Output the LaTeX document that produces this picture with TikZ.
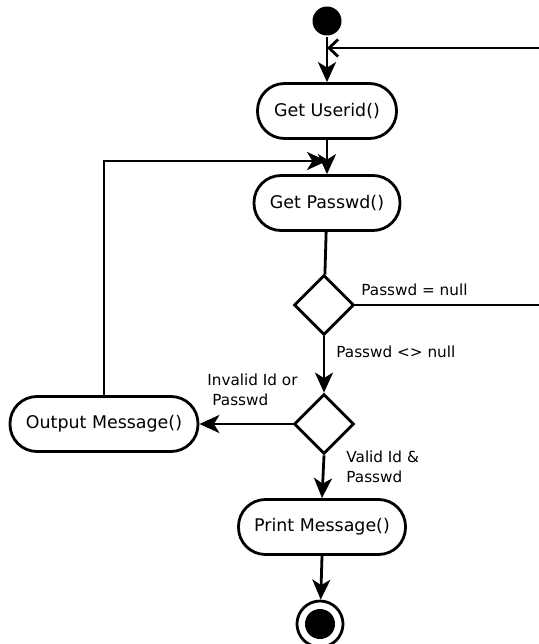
\documentclass[tikz,border=0pt]{standalone}
\usepackage{fontspec}
\setmainfont{DejaVu Sans}
\usetikzlibrary{arrows.meta,shapes.geometric}

\begin{document}
\begin{tikzpicture}[x=1bp,y=-1bp,line width=2.8bp,
  action/.style={draw, rectangle, rounded corners=27bp, minimum height=55bp,
    inner sep=0pt, font=\fontsize{17.5}{20}\selectfont},
  decision/.style={draw, diamond, aspect=1, minimum size=60bp, inner sep=0pt},
  flow/.style={-{Stealth[length=20bp,width=18bp,inset=5.5bp]}},
  returnflow/.style={-{Straight Barb[length=9bp,width=17bp]}},
  guard/.style={font=\fontsize{15.3}{20}\selectfont, align=left, inner sep=0pt}]

\useasboundingbox (0,0) rectangle (539,644);

% activity nodes
\node[circle, fill, minimum size=29bp, inner sep=0pt] (start) at (327,21) {};
\node[action, minimum width=139bp] (userid) at (327,111) {Get Userid()};
\node[action, minimum width=146bp] (passwd) at (327,203) {Get Passwd()};
\node[decision] (check) at (324,305) {};
\node[decision] (valid) at (324,424) {};
\node[action, minimum width=188bp] (outmsg) at (104,424) {Output Message()};
\node[action, minimum width=167bp] (print) at (322,527) {Print Message()};
\node[circle, draw, minimum size=46bp, inner sep=0pt] (stop) at (320,624) {};
\fill (stop.center) circle (15bp);

% junction points and free ends
\coordinate (retjoin) at (327,48);
\coordinate (retright) at (539,48);
\coordinate (loopjoin) at (327,161);
\coordinate (nullright) at (539,305);

% connectors
\draw[flow] (start) -- (userid);
\draw[returnflow] (retright) -- (retjoin);
\draw[flow] (userid) -- (passwd);
\draw[flow] (outmsg.north) |- (loopjoin);
\draw (passwd) -- (check);
\draw (check.east) -- (nullright);
\draw[flow] (check.south) -- (valid.north);
\draw[flow] (valid.west) -- (outmsg.east);
\draw[flow] (valid.south) -- (print.north);
\draw[flow] (print.south) -- (stop);

% guard labels
\node[guard, anchor=base west] (lnull) at (360,295) {Passwd = null};
\node[guard, anchor=base west] (lnotnull) at (335,357) {Passwd <> null};
\node[guard, anchor=north west] (linvalid) at (206,373) {Invalid Id or\\\hspace*{5bp}Passwd};
\node[guard, anchor=north west] (lvalid) at (345,450) {Valid Id \&\\Passwd};
\end{tikzpicture}
\end{document}
